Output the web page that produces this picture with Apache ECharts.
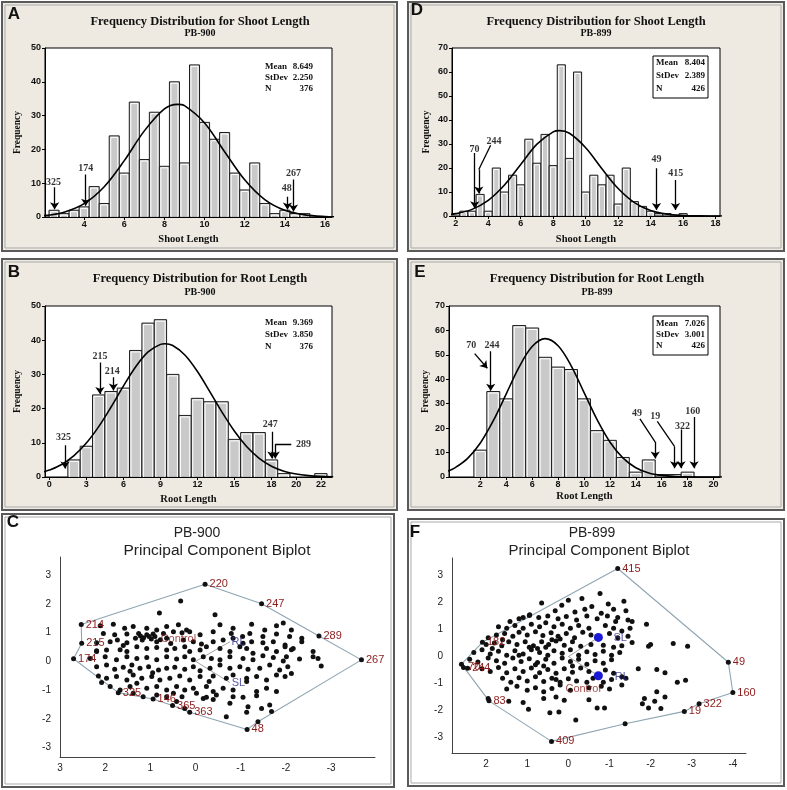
<!DOCTYPE html>
<html><head><meta charset="utf-8">
<script src="https://cdn.jsdelivr.net/npm/echarts@6/dist/echarts.min.js"></script>
<style>html,body{margin:0;padding:0;background:#fff}#main{width:787px;height:790px}</style>
</head><body><div id="main"></div>
<script>
// ---------- Panel A: Shoot length PB-900 ----------
const A_bins = [2.5,3.0,3.5,4.0,4.5,5.0,5.5,6.0,6.5,7.0,7.5,8.0,8.5,9.0,9.5,10.0,10.5,11.0,11.5,12.0,12.5,13.0,13.5,14.0,14.5,15.0];
const A_freq = [2,1,2,3,9,4,24,13,34,17,31,15,40,16,45,28,23,25,13,8,16,4,1,2,1,1];
const A_curveX = [2,3,4,5,6,7,8,8.65,9,10,11,12,13,14,15,16,17];
const A_curveY = [0.42,1.43,3.94,8.95,16.67,25.48,31.97,33.33,32.93,27.83,19.31,11.0,5.14,1.97,0.62,0.16,0.04];
const A_stats = [['Mean','8.649'],['StDev','2.250'],['N','376']];
const A_arrows = [[[2.53,8.8],[2.53,2.3]],[[4.08,12.6],[4.08,3.3]],[[14.13,6.0],[14.13,2.2]],[[14.43,11.1],[14.43,1.6]]];
const A_labels = [['325',2.47,10.2],['174',4.08,14.4],['48',14.1,8.6],['267',14.43,12.9]];
const A_ticks = [4,6,8,10,12,14,16];

// ---------- Panel D: Shoot length PB-899 ----------
const D_bins = [2.0,2.5,3.0,3.5,4.0,4.5,5.0,5.5,6.0,6.5,7.0,7.5,8.0,8.5,9.0,9.5,10.0,10.5,11.0,11.5,12.0,12.5,13.0,13.5,14.0,14.5,15.0,15.5,16.0];
const D_freq = [1,2,2,9,2,20,10,17,13,32,22,34,21,63,24,60,10,17,13,17,5,20,6,4,2,1,1,0,1];
const D_curveX = [1.5,2,3,4,5,6,7,8,8.4,9,10,11,12,13,14,15,16,17,18,18.5];
const D_curveY = [0.55,0.98,2.76,6.50,12.89,21.44,29.93,35.07,35.57,34.48,28.46,19.71,11.46,5.59,2.29,0.79,0.23,0.05,0.01,0.0];
const D_stats = [['Mean','8.404'],['StDev','2.389'],['N','426']];
const D_arrows = [[[3.17,26.2],[3.17,3.2]],[[4.15,29.5],[3.42,19.4],[3.42,9.4]],[[14.36,19.9],[14.36,2.5]],[[15.53,15.0],[15.53,2.5]]];
const D_labels = [['70',3.15,27.8],['244',4.35,31.1],['49',14.36,23.5],['415',15.55,17.8]];
const D_ticks = [2,4,6,8,10,12,14,16,18];

// ---------- Panel B: Root length PB-900 ----------
const B_bins = [2,3,4,5,6,7,8,9,10,11,12,13,14,15,16,17,18,19,20,21,22];
const B_freq = [5,9,24,25,26,37,45,46,30,18,23,22,22,11,13,13,5,1,0,0,1];
const B_curveX = [-0.5,0,1,2,3,4,5,6,7,8,9,9.37,10,11,12,13,14,15,16,17,18,19,20,21,22,23];
const B_curveY = [1.46,2.02,3.67,6.24,9.92,14.74,20.46,26.57,32.24,36.57,38.78,38.96,38.44,35.62,30.85,24.97,18.90,13.37,8.84,5.47,3.16,1.71,0.86,0.41,0.18,0.07];
const B_stats = [['Mean','9.369'],['StDev','3.850'],['N','376']];
const B_arrows = [[[1.27,9.3],[1.27,2.5]],[[4.1,33.5],[4.1,24.3]],[[5.19,29.2],[5.19,25.3]],[[18.03,13.2],[18.03,5.4]],[[19.6,9.6],[18.3,9.6],[18.3,5.4]]];
const B_labels = [['325',1.15,11.7],['215',4.1,35.3],['214',5.1,31.0],['247',17.9,15.5],['289',20.6,9.6]];
const B_ticks = [0,3,6,9,12,15,18,20,22];

// ---------- Panel E: Root length PB-899 ----------
const E_bins = [2,3,4,5,6,7,8,9,10,11,12,13,14,15,16,17,18];
const E_freq = [11,35,32,62,61,49,45,44,32,19,15,8,2,7,1,1,2];
const E_curveX = [-0.5,0,1,2,3,4,5,6,7,8,9,10,11,12,13,14,15,16,17,18,19,20,21];
const E_curveY = [2.44,3.65,7.54,13.93,23.03,34.06,45.09,53.41,56.63,53.73,45.62,34.66,23.56,14.34,7.81,3.81,1.66,0.65,0.23,0.07,0.02,0.01,0.0];
const E_stats = [['Mean','7.026'],['StDev','3.001'],['N','426']];
const E_arrows = [[[1.56,50.5],[2.54,44.5]],[[2.8,51.5],[2.8,35.3]],[[14.32,23.8],[15.5,14.3],[15.5,7.6]],[[15.66,22.8],[17.0,12.4],[17.0,3.6]],[[17.49,19.4],[17.49,3.6]],[[18.5,24.6],[18.5,3.6]]];
const E_labels = [['70',1.3,53.7],['244',2.9,53.7],['49',14.1,26.0],['19',15.5,24.6],['322',17.6,20.7],['160',18.4,27.0]];
const E_ticks = [2,4,6,8,10,12,14,16,18,20];

// ---------- Panel C: PCA biplot PB-900 ----------
const C_points = [
[0.33,2.10],[0.80,1.68],[-0.43,1.62],
[2.11,1.24],[1.82,1.29],[1.57,1.15],[1.38,1.21],[1.08,1.15],[0.86,1.09],[0.64,1.21],[0.38,1.27],[0.20,1.09],[0.13,1.03],[-0.54,1.27],[-0.83,1.15],[-1.24,1.29],[-1.53,1.09],[-1.79,1.24],[-1.94,1.33],[-2.12,1.09],
[2.04,0.97],[1.79,0.92],[1.52,0.95],[1.26,0.97],[1.08,0.92],[0.94,0.95],[0.71,0.97],[0.49,1.03],[0.30,0.99],[-0.10,0.92],[-0.39,1.03],[-0.79,0.97],[-1.04,0.86],[-1.20,0.97],[-1.49,0.86],[-1.79,0.95],[-2.08,0.86],[-2.35,0.80],
[2.19,0.65],[1.89,0.68],[1.73,0.74],[1.52,0.65],[1.33,0.80],[1.18,0.74],[1.03,0.86],[0.86,0.68],[0.64,0.80],[0.27,0.74],[0.05,0.68],[-0.13,0.60],[-0.39,0.68],[-0.61,0.74],[-0.83,0.80],[-1.05,0.63],[-1.24,0.68],[-1.49,0.65],[-1.72,0.68],[-1.98,0.57],[-2.16,0.45],[-2.35,0.68],
[1.15,0.82],[0.98,0.78],[1.22,0.88],[0.90,0.86],[0.78,0.75],
[2.19,0.34],[1.97,0.39],[1.67,0.40],[1.52,0.34],[1.30,0.51],[1.08,0.45],[0.86,0.48],[0.64,0.39],[0.46,0.45],[0.24,0.51],[0.13,0.34],[-0.10,0.39],[-0.24,0.51],[-0.54,0.45],[-0.76,0.34],[-0.98,0.51],[-1.13,0.45],[-1.27,0.28],[-1.57,0.45],[-1.79,0.34],[-1.98,0.51],[-2.12,0.40],[-2.60,0.34],
[2.33,0.10],[2.00,0.16],[1.75,0.05],[1.52,0.16],[1.30,0.10],[1.08,0.13],[0.86,0.05],[0.64,0.16],[0.42,0.08],[0.24,0.16],[0.05,0.05],[-0.17,0.16],[-0.35,0.10],[-0.54,0.05],[-0.76,0.16],[-1.05,0.10],[-1.27,0.05],[-1.49,0.19],[-1.72,0.13],[-1.94,0.01],[-2.01,0.16],[-2.30,0.08],[-2.60,0.16],[-2.71,0.10],
[2.19,-0.19],[1.97,-0.13],[1.79,-0.28],[1.60,-0.21],[1.41,-0.13],[1.23,-0.24],[1.04,-0.19],[0.82,-0.30],[0.64,-0.24],[0.46,-0.21],[0.24,-0.28],[0.05,-0.19],[-0.10,-0.33],[-0.32,-0.24],[-0.54,-0.13],[-0.76,-0.24],[-0.98,-0.19],[-1.16,-0.28],[-1.42,-0.24],[-1.64,-0.13],[-1.86,-0.30],[-2.04,-0.19],[-2.78,-0.16],
[2.15,-0.51],[1.97,-0.59],[1.75,-0.53],[1.52,-0.65],[1.38,-0.48],[1.19,-0.59],[0.97,-0.53],[0.79,-0.65],[0.57,-0.59],[0.35,-0.51],[0.13,-0.65],[-0.10,-0.53],[-0.39,-0.51],[-0.68,-0.59],[-0.83,-0.48],[-1.13,-0.59],[-1.35,-0.53],[-1.57,-0.65],[-1.79,-0.48],[-1.98,-0.53],[-2.12,-0.42],
[2.08,-0.74],[1.89,-0.88],[1.67,-1.0],[1.45,-0.88],[1.30,-0.76],[1.08,-0.94],[0.86,-0.88],[0.64,-1.0],[0.42,-0.88],[0.24,-1.0],[0.05,-0.94],[-0.24,-0.88],[-0.39,-1.05],[-0.61,-0.94],[-0.83,-1.0],[-1.13,-0.70],[-1.35,-1.05],[-1.57,-0.94],[-1.79,-1.05],
[1.38,-1.11],[1.16,-1.23],[0.86,-1.17],[0.64,-1.23],[0.49,-1.11],[0.30,-1.23],[-0.02,-1.11],[-0.24,-1.25],[-0.46,-1.17],[-0.83,-1.23],[-1.05,-1.25],[-1.35,-1.20],
[0.42,-1.40],[0.24,-1.64],[-0.17,-1.29],[-0.39,-1.33],[-0.76,-1.46],[-1.16,-1.58],[-1.46,-1.64],[-1.64,-1.52],
[-0.68,-1.93],[-1.13,-1.77],[-1.68,-1.75],[-1.38,-2.10],[2.19,0.37],[1.60,0.55],[0.55,0.62],[-0.30,-0.70],[0.95,-0.40],[1.45,-0.35]
];
const C_named = [['214',2.53,1.28],['215',2.52,0.63],['174',2.70,0.09],['325',1.71,-1.09],['146',0.94,-1.31],['365',0.51,-1.54],['363',0.13,-1.77],['48',-1.14,-2.37],['267',-3.67,0.05],['289',-2.73,0.88],['247',-1.46,2.0],['220',-0.21,2.68]];
const C_hull = [[2.53,1.28],[-0.21,2.68],[-1.46,2.0],[-2.73,0.88],[-3.67,0.05],[-1.38,-2.10],[-1.14,-2.37],[0.13,-1.77],[0.51,-1.54],[0.94,-1.31],[1.71,-1.09],[2.70,0.09],[2.52,0.63],[2.53,1.28]];
const C_vectors = [['RL',-0.76,0.68],['SL',-0.76,-0.74]];
const C_varLabels = [['Control',0.38,0.77,'#8b1a1a'],['RL',-0.95,0.68,'#2b2b8c'],['SL',-0.95,-0.74,'#2b2b8c']];
const C_xticks = [3,2,1,0,-1,-2,-3];
const C_yticks = [-3,-2,-1,0,1,2,3];

// ---------- Panel F: PCA biplot PB-899 ----------
const F_points = [
[-0.77,2.34],[-0.33,2.15],[0.0,2.09],[-1.35,2.05],[0.65,1.98],[0.16,1.90],[-0.97,1.95],[-0.57,1.85],[-1.10,1.75],[-0.40,1.75],[0.32,1.70],[0.94,1.55],[-0.16,1.65],[-1.40,1.70],[0.50,1.50],[1.10,1.45],[-0.80,1.60],[-1.20,1.45],[-1.55,1.30],
[1.42,1.30],[1.20,1.40],[0.95,1.52],[0.72,1.45],[0.25,1.40],[0.05,1.48],[-0.20,1.35],[-0.45,1.50],[-0.70,1.40],[-0.95,1.50],[-1.15,1.30],[-1.45,1.35],[-1.90,1.20],
[1.70,1.10],[1.50,1.05],[1.30,1.15],[1.10,1.05],[0.90,1.20],[0.70,1.10],[0.55,1.25],[0.35,1.10],[0.15,1.20],[-0.05,1.05],[-0.25,1.15],[-0.50,1.05],[-0.90,1.15],[-1.10,1.05],[-1.30,0.95],[-1.50,1.05],
[1.95,0.70],[1.75,0.80],[1.55,0.85],[1.35,0.75],[1.20,0.90],[1.00,0.80],[0.80,0.92],[0.62,0.78],[0.42,0.88],[0.25,0.75],[0.05,0.85],[-0.15,0.70],[-0.35,0.90],[-0.55,0.80],[-1.00,0.85],[-1.20,0.70],[-1.45,0.75],
[2.00,0.45],[1.80,0.50],[1.62,0.40],[1.45,0.55],[1.25,0.45],[1.05,0.55],[0.85,0.40],[0.65,0.55],[0.48,0.45],[0.30,0.58],[0.10,0.42],[-0.10,0.55],[-0.30,0.38],[-0.55,0.45],[-0.85,0.42],[-1.10,0.35],[-1.30,0.40],[-1.55,0.52],[-2.00,0.45],[-2.55,0.48],[-2.90,0.38],[-1.95,0.38],
[2.30,0.15],[2.10,0.25],[1.90,0.10],[1.70,0.20],[1.50,0.05],[1.30,0.22],[1.10,0.10],[0.90,0.25],[0.70,0.15],[0.50,0.05],[0.35,0.22],[0.15,0.12],[-0.05,0.25],[-0.25,0.05],[-0.45,0.18],[-0.65,0.08],[-0.85,0.20],[-1.05,0.05],[-1.25,0.15],
[2.40,-0.10],[2.20,-0.20],[1.95,-0.05],[1.75,-0.15],[1.55,-0.25],[1.35,-0.05],[1.15,-0.18],[0.95,-0.08],[0.75,-0.22],[0.55,-0.10],[0.35,-0.25],[0.15,-0.05],[-0.05,-0.18],[-0.25,-0.10],[-0.45,-0.28],[-0.65,-0.15],[-0.85,-0.25],[-1.05,-0.12],
[2.10,-0.45],[1.90,-0.55],[1.70,-0.40],[1.50,-0.60],[1.30,-0.45],[1.10,-0.55],[0.90,-0.42],[0.70,-0.60],[0.50,-0.48],[0.30,-0.62],[0.10,-0.45],[-0.10,-0.58],[-0.30,-0.42],[-0.50,-0.55],[-0.90,-0.50],[-1.10,-0.62],[-1.30,-0.75],[-1.70,-0.45],[-2.15,-0.48],[-2.35,-0.60],
[1.60,-0.80],[1.40,-0.95],[1.20,-0.78],[1.00,-0.90],[0.80,-0.75],[0.60,-0.92],[0.40,-0.80],[0.20,-0.95],[0.00,-0.82],[-0.20,-0.90],[-0.45,-0.95],[-0.60,-0.80],[-0.85,-0.95],[-1.05,-0.85],[-1.40,-0.80],[-2.65,-0.95],[-2.85,-0.88],
[1.50,-1.20],[1.25,-1.10],[1.00,-1.25],[0.80,-1.15],[0.60,-1.30],[0.40,-1.18],[0.20,-1.05],[-0.05,-1.25],[-0.50,-1.15],[-0.80,-1.10],[-1.00,-1.20],[-1.30,-1.05],[-2.15,-1.30],[-2.35,-1.50],[-1.85,-1.55],
[1.95,-1.55],[1.45,-1.65],[1.10,-1.70],[0.60,-1.55],[0.30,-1.50],[0.10,-1.62],[-0.50,-1.60],[-1.80,-1.75],[-1.95,-1.90],[-2.10,-1.65],[-2.25,-1.92],
[0.97,-1.95],[0.45,-2.08],[0.23,-2.05],[-0.70,-1.90],[-0.88,-1.90],[-0.18,-2.35],[-1.38,-2.49],
[0.95,0.35],[0.75,0.30],[0.55,0.35],[1.20,0.05],[0.80,-0.30],[0.60,-0.35],[0.40,0.62],[0.20,0.65],[-0.10,-0.35],[0.30,-0.85],[1.60,0.62],[1.85,0.30],[2.60,-0.28]
];
const F_named = [['415',-1.20,3.26],['49',-3.89,-0.21],['160',-4.0,-1.33],['322',-3.18,-1.75],['19',-2.82,-2.03],['409',0.41,-3.14],['83',1.93,-1.64],['182',2.09,0.53],['70',2.55,-0.40],['244',2.45,-0.43]];
const F_hull = [[-1.20,3.26],[-3.89,-0.21],[-4.0,-1.33],[-3.18,-1.75],[-2.82,-2.03],[-1.38,-2.49],[0.41,-3.14],[1.93,-1.64],[2.60,-0.28],[2.09,0.53],[-1.20,3.26]];
const F_vectors = [['SL',-0.73,0.71],['RL',-0.73,-0.71]];
const F_varLabels = [['SL',-1.26,0.68,'#2b2b8c'],['RL',-1.30,-0.74,'#2b2b8c'],['Control',-0.36,-1.21,'#8b1a1a']];
const F_xticks = [2,1,0,-1,-2,-3,-4];
const F_yticks = [-3,-2,-1,0,1,2,3];

// ---------- build ----------
const SERIF = '"Liberation Serif","Times New Roman",serif';
const SANS = '"Liberation Sans",Arial,sans-serif';
const LBL_RED = '#8b1a1a';

function histBars(gi, bins, freq, bw) {
  return {
    type: 'custom', xAxisIndex: gi, yAxisIndex: gi, clip: true, z: 3,
    data: bins.map((x, i) => [x, freq[i]]),
    renderItem: function (params, api) {
      const x = api.value(0), y = api.value(1);
      if (!y) return null;
      const p0 = api.coord([x - bw / 2, y]);
      const p1 = api.coord([x + bw / 2, 0]);
      const w = p1[0] - p0[0], h = p1[1] - p0[1];
      const ch = [{type: 'rect', shape: {x: p0[0], y: p0[1], width: w, height: h},
        style: {fill: '#c9c9c9', stroke: '#1c1c1c', lineWidth: 1}}];
      if (h > 3) ch.push({type: 'rect', shape: {x: p0[0] + 1.5, y: p0[1] + 1.5, width: w - 3, height: h - 1.5},
        style: {fill: 'none', stroke: '#ffffff', lineWidth: 1}});
      return {type: 'group', children: ch};
    }
  };
}
function curve(gi, xs, ys) {
  return {type: 'line', xAxisIndex: gi, yAxisIndex: gi, smooth: 0.35, showSymbol: false, symbol: 'none', z: 4,
    lineStyle: {color: '#000', width: 1.6}, data: xs.map((x, i) => [x, ys[i]]), clip: true, silent: true};
}
// arrows: every polyline is split into plain segments plus a final segment with an arrow head
function arrows(gi, arr) {
  const plain = [], head = [];
  arr.forEach(c => {
    for (let i = 0; i < c.length - 1; i++) {
      const seg = {coords: [c[i], c[i + 1]]};
      if (i === c.length - 2) head.push(seg); else plain.push(seg);
    }
  });
  const base = {type: 'lines', coordinateSystem: 'cartesian2d', xAxisIndex: gi, yAxisIndex: gi, z: 6, silent: true,
    lineStyle: {color: '#000', width: 1.3, opacity: 1, curveness: 0}};
  return [
    Object.assign({}, base, {symbol: ['none', 'none'], data: plain}),
    Object.assign({}, base, {symbol: ['none', 'arrow'], symbolSize: [1, 7], data: head})
  ];
}
function textPts(gi, arr, style) {
  return {type: 'scatter', xAxisIndex: gi, yAxisIndex: gi, symbolSize: 0, z: 7, silent: true,
    data: arr.map(a => ({name: a[0], value: [a[1], a[2]]})),
    label: Object.assign({show: true, position: 'inside', formatter: '{b}'}, style)};
}
function histX(gi, min, max, ticks, name, gap) {
  return {gridIndex: gi, type: 'value', min: min, max: max, name: name, nameLocation: 'middle', nameGap: gap,
    nameTextStyle: {fontFamily: SERIF, fontWeight: 'bold', fontSize: 10.5, color: '#111'},
    axisLine: {show: true, onZero: false, lineStyle: {color: '#000', width: 1}},
    axisTick: {show: true, length: 3, customValues: ticks, lineStyle: {color: '#000'}},
    axisLabel: {customValues: ticks, fontFamily: SANS, fontWeight: 'bold', fontSize: 9, color: '#111', margin: 3},
    splitLine: {show: false}};
}
function histY(gi, max, gap) {
  return {gridIndex: gi, type: 'value', min: 0, max: max, interval: 10, name: 'Frequency', nameLocation: 'middle', nameGap: gap,
    nameTextStyle: {fontFamily: SERIF, fontWeight: 'bold', fontSize: 9.5, color: '#111'},
    axisLine: {show: true, onZero: false, lineStyle: {color: '#000', width: 1}},
    axisTick: {show: true, length: 3, lineStyle: {color: '#000'}},
    axisLabel: {fontFamily: SANS, fontWeight: 'bold', fontSize: 9, color: '#111', margin: 4},
    splitLine: {show: false}};
}
function pcaX(gi, min, max, ticks) {
  return {gridIndex: gi, type: 'value', inverse: true, min: min, max: max,
    axisLine: {show: true, onZero: false, lineStyle: {color: '#444', width: 1}},
    axisTick: {show: false}, splitLine: {show: false},
    axisLabel: {customValues: ticks, fontFamily: SANS, fontSize: 10, color: '#222', margin: 6}};
}
function pcaY(gi, min, max, ticks) {
  return {gridIndex: gi, type: 'value', min: min, max: max,
    axisLine: {show: true, onZero: false, lineStyle: {color: '#444', width: 1}},
    axisTick: {show: false}, splitLine: {show: false},
    axisLabel: {customValues: ticks, fontFamily: SANS, fontSize: 10, color: '#222', margin: 9}};
}
function pcaSeries(gi, pts, named, hull, vectors, varLabels, bigDots) {
  const s = [];
  s.push({type: 'line', xAxisIndex: gi, yAxisIndex: gi, data: hull, showSymbol: false, symbol: 'none', silent: true, z: 2,
    lineStyle: {color: '#8fa5b2', width: 1.1}});
  s.push({type: 'lines', coordinateSystem: 'cartesian2d', xAxisIndex: gi, yAxisIndex: gi, silent: true, z: 2,
    lineStyle: {color: '#8a8a8a', width: 0.8, opacity: 1},
    data: vectors.map(v => ({coords: [[0, 0], [v[1], v[2]]]}))});
  s.push({type: 'scatter', xAxisIndex: gi, yAxisIndex: gi, data: pts, symbolSize: 5, silent: true, z: 3,
    itemStyle: {color: '#111', opacity: 1}});
  s.push({type: 'scatter', xAxisIndex: gi, yAxisIndex: gi, symbolSize: 5, silent: true, z: 4,
    itemStyle: {color: '#111', opacity: 1},
    data: named.map(a => ({name: a[0], value: [a[1], a[2]]})),
    label: {show: true, position: 'right', distance: 2, formatter: '{b}', color: LBL_RED, fontFamily: SANS, fontSize: 11}});
  if (bigDots) s.push({type: 'scatter', xAxisIndex: gi, yAxisIndex: gi, symbolSize: 9, silent: true, z: 5,
    itemStyle: {color: '#1a1ad6', opacity: 1}, data: vectors.map(v => [v[1], v[2]])});
  s.push({type: 'scatter', xAxisIndex: gi, yAxisIndex: gi, symbolSize: 0, silent: true, z: 6,
    data: varLabels.map(a => ({name: a[0], value: [a[1], a[2]], label: {color: a[3]}})),
    label: {show: true, position: 'inside', formatter: '{b}', fontFamily: SANS, fontSize: 11}});
  return s;
}

const histGrid = {show: true, backgroundColor: '#ffffff', borderColor: '#000', borderWidth: 1, containLabel: false};
const grids = [
  Object.assign({left: 45, top: 48, width: 287, height: 169}, histGrid),
  Object.assign({left: 452, top: 48, width: 268, height: 168}, histGrid),
  Object.assign({left: 45, top: 306, width: 287, height: 171}, histGrid),
  Object.assign({left: 449, top: 306, width: 271, height: 171}, histGrid),
  {left: 60, top: 557, width: 315, height: 200, show: false},
  {left: 452, top: 558, width: 294, height: 195, show: false}
];

const xAxes = [
  histX(0, 2.05, 16.35, A_ticks, 'Shoot Length', 17),
  histX(1, 1.77, 18.27, D_ticks, 'Shoot Length', 18),
  histX(2, -0.35, 22.9, B_ticks, 'Root Length', 17),
  histX(3, -0.42, 20.5, E_ticks, 'Root Length', 14),
  pcaX(4, -3.97, 3, C_xticks),
  pcaX(5, -4.32, 2.83, F_xticks)
];
const yAxes = [
  histY(0, 50, 22), histY(1, 70, 20), histY(2, 50, 22), histY(3, 70, 18),
  pcaY(4, -3.33, 3.63, C_yticks), pcaY(5, -3.57, 3.65, F_yticks)
];

const labelStyle = {color: '#000', fontFamily: SERIF, fontWeight: 'bold', fontSize: 10};
let series = [];
[[0, A_bins, A_freq, 0.5, A_curveX, A_curveY, A_arrows, A_labels],
 [1, D_bins, D_freq, 0.5, D_curveX, D_curveY, D_arrows, D_labels],
 [2, B_bins, B_freq, 1, B_curveX, B_curveY, B_arrows, B_labels],
 [3, E_bins, E_freq, 1, E_curveX, E_curveY, E_arrows, E_labels]].forEach(p => {
  series.push(histBars(p[0], p[1], p[2], p[3]));
  series.push(curve(p[0], p[4], p[5]));
  series = series.concat(arrows(p[0], p[6]));
  series.push(textPts(p[0], p[7], labelStyle));
});
series = series.concat(pcaSeries(4, C_points, C_named, C_hull, C_vectors, C_varLabels, false));
series = series.concat(pcaSeries(5, F_points, F_named, F_hull, F_vectors, F_varLabels, true));

// decorations: panels, titles, stats
const g = [];
function panel(x, y, w, h, fill) {
  g.push({type: 'rect', z: -10, silent: true, shape: {x: x, y: y, width: w, height: h}, style: {fill: fill, stroke: '#5a5a5a', lineWidth: 2}});
  g.push({type: 'rect', z: -9, silent: true, shape: {x: x + 3, y: y + 3, width: w - 6, height: h - 6}, style: {fill: 'none', stroke: '#a9a9a9', lineWidth: 1}});
}
function txt(x, y, s, font, align, color) {
  g.push({type: 'text', z: 100, silent: true, style: {x: x, y: y, text: s, font: font, fill: color || '#111', textAlign: align || 'center', textVerticalAlign: 'middle'}});
}
const BEIGE = '#eeeae1';
panel(2, 2, 395, 249, BEIGE);
panel(408, 2, 376, 249, BEIGE);
panel(2, 259, 395, 251, BEIGE);
panel(408, 259, 376, 251, BEIGE);
panel(2, 514, 392, 273, '#ffffff');
panel(408, 519, 376, 267, '#ffffff');

const LET = 'bold 17px ' + SANS;
txt(14, 14, 'A', LET); txt(417, 10, 'D', LET); txt(14, 272, 'B', LET); txt(420, 272, 'E', LET);
txt(13, 522, 'C', LET); txt(415, 532, 'F', LET);

const TF = 'bold 12.5px ' + SERIF, SF = 'bold 10px ' + SERIF;
txt(200, 22, 'Frequency Distribution for Shoot Length', TF); txt(200, 33.5, 'PB-900', SF);
txt(596, 22, 'Frequency Distribution for Shoot Length', TF); txt(596, 33.5, 'PB-899', SF);
txt(200, 279, 'Frequency Distribution for Root Length', TF); txt(200, 292, 'PB-900', SF);
txt(597, 279, 'Frequency Distribution for Root Length', TF); txt(597, 292, 'PB-899', SF);
txt(197, 533, 'PB-900', '14px ' + SANS, 'center', '#222'); txt(217, 551, 'Principal Component Biplot', '15.5px ' + SANS, 'center', '#222');
txt(592, 533, 'PB-899', '14px ' + SANS, 'center', '#222'); txt(599, 551, 'Principal Component Biplot', '15px ' + SANS, 'center', '#222');

const STF = 'bold 9px ' + SERIF;
function stats(st, xl, xr, ys, box) {
  if (box) g.push({type: 'rect', z: 99, silent: true, shape: {x: box[0], y: box[1], width: box[2], height: box[3]}, style: {fill: '#fff', stroke: '#000', lineWidth: 1}});
  st.forEach((r, i) => { txt(xl, ys[i], r[0], STF, 'left'); txt(xr, ys[i], r[1], STF, 'right'); });
}
stats(A_stats, 265, 313, [67, 77.5, 88.5]);
stats(D_stats, 656, 705, [63, 76, 89], [653, 56, 55, 42]);
stats(B_stats, 265, 313, [323, 335, 347]);
stats(E_stats, 656, 705, [323.5, 334.5, 346], [653, 316, 55, 39]);

const chart = echarts.init(document.getElementById('main'), null, {renderer: 'canvas'});
chart.setOption({
  backgroundColor: '#ffffff', animation: false,
  grid: grids, xAxis: xAxes, yAxis: yAxes, series: series, graphic: {elements: g}
});
</script></body></html>
